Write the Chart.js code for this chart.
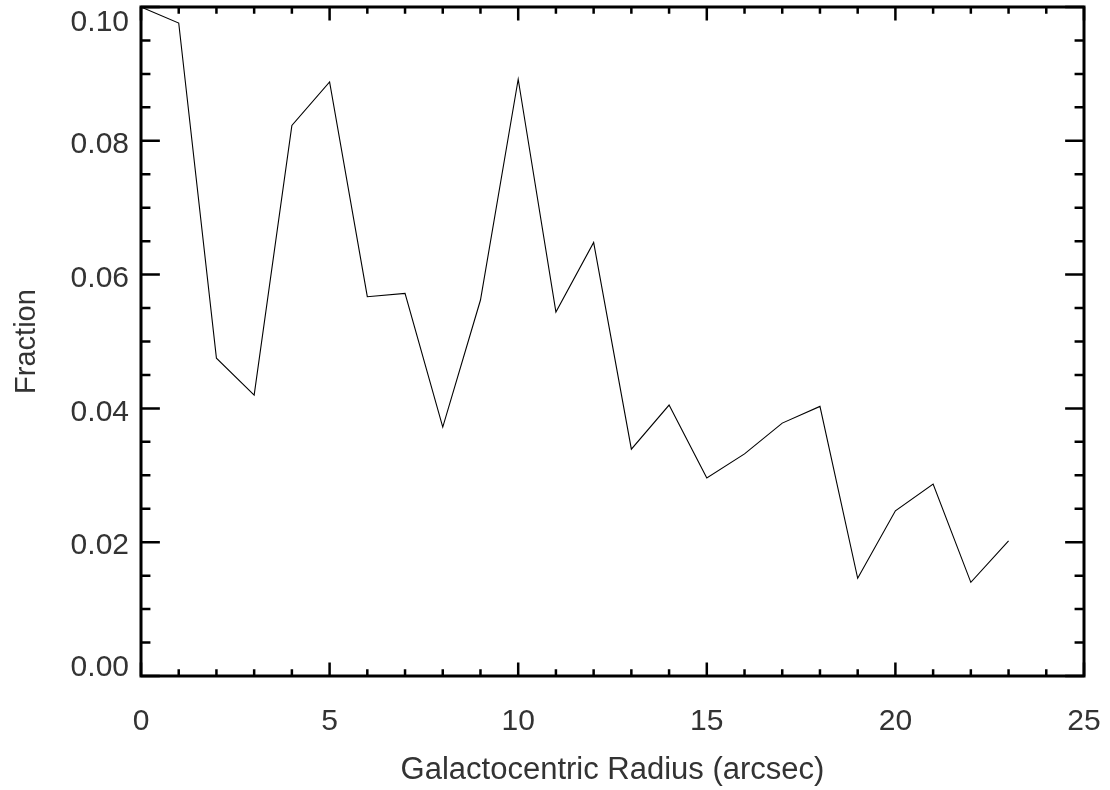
<!DOCTYPE html>
<html>
<head>
<meta charset="utf-8">
<title>Fraction vs Galactocentric Radius</title>
<script src="https://cdn.jsdelivr.net/npm/chart.js@4/dist/chart.umd.min.js"></script>
<style>
    html, body { margin: 0; padding: 0; background: #fff; }
    #wrap { width: 1110px; height: 790px; }
</style>
</head>
<body>
<div id="wrap"><canvas id="fractionChart" width="1110" height="790"></canvas></div>
<script>
// Radius in arcsec and the measured fraction at each radius
const radius = [0, 1, 2, 3, 4, 5, 6, 7, 8, 9, 10, 11, 12, 13, 14, 15, 16, 17, 18, 19, 20, 21, 22, 23];
const fraction = [0.1000, 0.0976, 0.0475, 0.0420, 0.0823, 0.0888, 0.0567, 0.0572, 0.0372, 0.0562,
                  0.0892, 0.0544, 0.0648, 0.0339, 0.0405, 0.0296, 0.0332, 0.0378, 0.0403, 0.0146,
                  0.0247, 0.0287, 0.0140, 0.0202];

// Axis ticks
const xTicks = [0, 5, 10, 15, 20, 25];
const yTicks = [0, 0.02, 0.04, 0.06, 0.08, 0.10];
const xMinorStep = 1;
const yMinorStep = 0.005;

const textColor = '#333';
const fontFamily = '"Liberation Sans", Arial, Helvetica, sans-serif';

// IDL-style box: frame on all four sides with inward ticks
const boxTicks = {
    id: 'boxTicks',
    afterDraw(chart) {
        const ctx = chart.ctx;
        const area = chart.chartArea;
        const xs = chart.scales.x;
        const ys = chart.scales.y;
        const w = area.right - area.left;
        const h = area.bottom - area.top;

        ctx.save();
        ctx.strokeStyle = '#000';
        ctx.lineCap = 'butt';

        // ticks along x (bottom and top)
        ctx.lineWidth = 2.5;
        for (let v = xs.min; v <= xs.max + 1e-9; v += xMinorStep) {
            const px = xs.getPixelForValue(v);
            const major = xTicks.includes(Math.round(v));
            const len = major ? h * 0.02 : h * 0.01;
            ctx.beginPath();
            ctx.moveTo(px, area.bottom);
            ctx.lineTo(px, area.bottom - len);
            ctx.moveTo(px, area.top);
            ctx.lineTo(px, area.top + len);
            ctx.stroke();
        }

        // ticks along y (left and right)
        for (let i = 0; i * yMinorStep <= ys.max + 1e-9; i++) {
            const v = i * yMinorStep;
            const py = ys.getPixelForValue(v);
            const major = i % 4 === 0;
            const len = major ? w * 0.02 : w * 0.01;
            ctx.beginPath();
            ctx.moveTo(area.left, py);
            ctx.lineTo(area.left + len, py);
            ctx.moveTo(area.right, py);
            ctx.lineTo(area.right - len, py);
            ctx.stroke();
        }

        // frame
        ctx.lineWidth = 3;
        ctx.strokeRect(area.left, area.top, w, h);
        ctx.restore();
    }
};

const ctx = document.getElementById('fractionChart').getContext('2d');
const fractionChart = new Chart(ctx, {
    type: 'line',
    data: {
        datasets: [{
            label: 'Fraction',
            data: radius.map((r, i) => ({ x: r, y: fraction[i] })),
            borderColor: '#000',
            borderWidth: 1.1,
            pointRadius: 0,
            tension: 0,
            fill: false
        }]
    },
    options: {
        responsive: false,
        animation: false,
        clip: false,
        layout: {
            padding: { top: 7, right: 26, bottom: 0, left: 0 }
        },
        plugins: {
            legend: { display: false },
            tooltip: { enabled: false }
        },
        scales: {
            x: {
                type: 'linear',
                min: 0,
                max: 25,
                afterBuildTicks: scale => { scale.ticks = xTicks.map(v => ({ value: v })); },
                afterFit: scale => {
                    scale.height = 114;
                    // labels may hang past the box ends
                    scale.paddingLeft = 0;
                    scale.paddingRight = 0;
                },
                grid: { display: false, drawTicks: false },
                border: { display: false },
                ticks: {
                    color: textColor,
                    font: { family: fontFamily, size: 30 },
                    padding: 28,
                    maxRotation: 0,
                    callback: v => String(v)
                },
                title: {
                    display: true,
                    text: 'Galactocentric Radius (arcsec)',
                    color: textColor,
                    font: { family: fontFamily, size: 31 },
                    padding: { top: 0, bottom: 1 }
                }
            },
            y: {
                type: 'linear',
                min: 0,
                max: 0.10,
                afterBuildTicks: scale => { scale.ticks = yTicks.map(v => ({ value: v })); },
                afterFit: scale => {
                    scale.width = 141;
                    scale.paddingTop = 0;
                    scale.paddingBottom = 0;
                },
                grid: { display: false, drawTicks: false },
                border: { display: false },
                ticks: {
                    color: textColor,
                    font: { family: fontFamily, size: 30, lineHeight: '24.4px' },
                    padding: 12,
                    labelOffset: 4,
                    // end labels sit just inside the box, like the original
                    callback: function (v, i, ticks) {
                        const text = v.toFixed(2);
                        if (i === 0) return [text, ''];
                        if (i === ticks.length - 1) return ['', text];
                        return text;
                    }
                },
                title: {
                    display: true,
                    text: 'Fraction',
                    color: textColor,
                    font: { family: fontFamily, size: 29 },
                    padding: { top: 10, bottom: 0 }
                }
            }
        }
    },
    plugins: [boxTicks]
});
</script>
</body>
</html>
